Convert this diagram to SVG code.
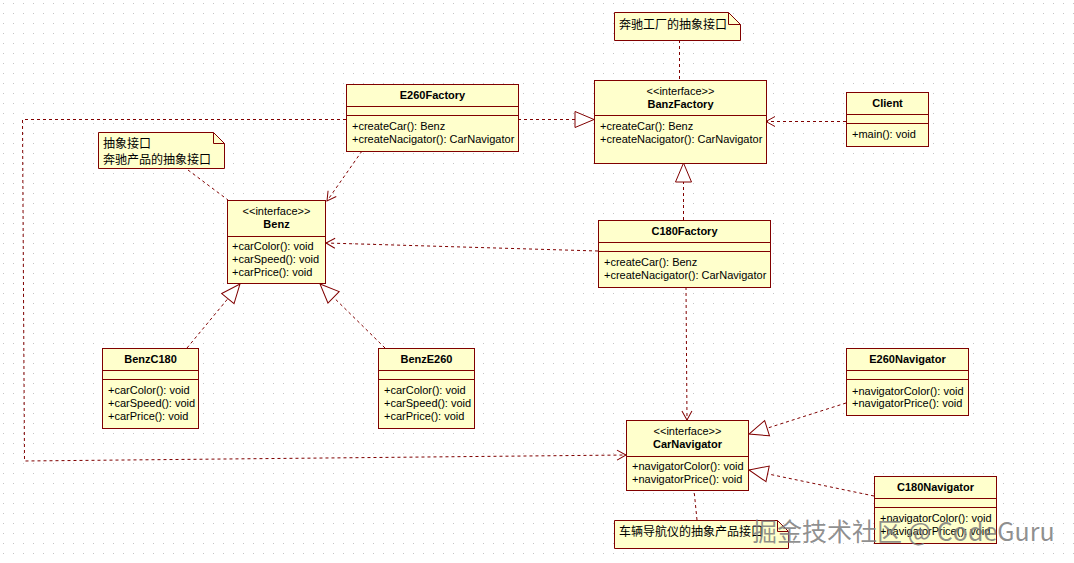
<svg xmlns="http://www.w3.org/2000/svg" width="1074" height="563" viewBox="0 0 1074 563">
<style>
.box{fill:#FFFFCC;stroke:#800000;stroke-width:1}
.sep{stroke:#800000;stroke-width:1}
.t{font-family:"Liberation Sans",Arial,sans-serif;font-size:11px;fill:#000}
.b{font-weight:bold}
.c{text-anchor:middle}
.cjk{font-family:"Noto Sans CJK SC","Noto Sans CJK JP",sans-serif;font-size:12px;fill:#000}
.dash{fill:none;stroke:#800000;stroke-width:1;stroke-dasharray:3,3}
.wm{font-family:"Noto Sans CJK SC","Liberation Sans",sans-serif;font-size:25px;fill:#7c7c7c;fill-opacity:0.85}
</style>
<defs>
<pattern id="grid" width="10" height="10" patternUnits="userSpaceOnUse" x="3" y="3">
<rect x="0" y="0" width="1" height="1" fill="#c4c4c4"/>
</pattern>
<marker id="tri" markerWidth="22" markerHeight="20" refX="20" refY="9" orient="auto" markerUnits="userSpaceOnUse">
<path d="M1,1 L20,9 L1,17 Z" fill="#fff" stroke="#800000" stroke-width="1"/>
</marker>
<marker id="open" markerWidth="12" markerHeight="12" refX="10" refY="6" orient="auto" markerUnits="userSpaceOnUse">
<path d="M1,1 L10,6 L1,11" fill="none" stroke="#800000" stroke-width="1"/>
</marker>
</defs>
<rect width="1074" height="563" fill="#fff"/>
<rect width="1074" height="563" fill="url(#grid)"/>

<g id="connectors">
<path class="dash" d="M518,119.5 L594,119.5" marker-end="url(#tri)"/>
<path class="dash" d="M346,119.5 L22.5,119.5 L24.5,461 L626,455" marker-end="url(#open)"/>
<path class="dash" d="M846,121.5 L766,121.5" marker-end="url(#open)"/>
<path class="dash" d="M683.5,220 L683.5,163" marker-end="url(#tri)"/>
<path class="dash" d="M598,251 L326,243" marker-end="url(#open)"/>
<path class="dash" d="M362,151 L327,201" marker-end="url(#open)"/>
<path class="dash" d="M188,170 L228,200"/>
<path class="dash" d="M187,348 L240,284" marker-end="url(#tri)"/>
<path class="dash" d="M385,348 L320,284" marker-end="url(#tri)"/>
<path class="dash" d="M686,287 L687,420" marker-end="url(#open)"/>
<path class="dash" d="M846,403 L749,434" marker-end="url(#tri)"/>
<path class="dash" d="M874,496 L749,470" marker-end="url(#tri)"/>
<path class="dash" d="M679.5,40 L679.5,80"/>
<path class="dash" d="M697,520 L694,490"/>
</g>

<g id="note-factory">
<path class="box" d="M614.5,12.5 L728.5,12.5 L740.5,24.5 L740.5,40.5 L614.5,40.5 Z"/>
<path fill="none" stroke="#800000" d="M728.5,12.5 L728.5,24.5 L740.5,24.5"/>
<text class="cjk" x="619" y="29">奔驰工厂的抽象接口</text>
</g>

<g id="BanzFactory">
<rect class="box" x="594.5" y="80.5" width="172" height="83"/>
<line class="sep" x1="594.5" y1="115.5" x2="766.5" y2="115.5"/>
<text class="t c" x="680.5" y="95">&lt;&lt;interface&gt;&gt;</text>
<text class="t b c" x="680.5" y="108">BanzFactory</text>
<text class="t" x="600" y="130">+createCar(): Benz</text>
<text class="t" x="600" y="143">+createNacigator(): CarNavigator</text>
</g>

<g id="E260Factory">
<rect class="box" x="346.5" y="84.5" width="172" height="67"/>
<line class="sep" x1="346.5" y1="106.5" x2="518.5" y2="106.5"/>
<line class="sep" x1="346.5" y1="115.5" x2="518.5" y2="115.5"/>
<text class="t b c" x="432.5" y="99">E260Factory</text>
<text class="t" x="352" y="130">+createCar(): Benz</text>
<text class="t" x="352" y="143">+createNacigator(): CarNavigator</text>
</g>

<g id="Client">
<rect class="box" x="846.5" y="92.5" width="82" height="54"/>
<line class="sep" x1="846.5" y1="114.5" x2="928.5" y2="114.5"/>
<line class="sep" x1="846.5" y1="123.5" x2="928.5" y2="123.5"/>
<text class="t b c" x="887.5" y="107">Client</text>
<text class="t" x="852" y="138">+main(): void</text>
</g>

<g id="C180Factory">
<rect class="box" x="598.5" y="220.5" width="172" height="67"/>
<line class="sep" x1="598.5" y1="242.5" x2="770.5" y2="242.5"/>
<line class="sep" x1="598.5" y1="251.5" x2="770.5" y2="251.5"/>
<text class="t b c" x="684.5" y="235">C180Factory</text>
<text class="t" x="604" y="266">+createCar(): Benz</text>
<text class="t" x="604" y="279">+createNacigator(): CarNavigator</text>
</g>

<g id="note-benz">
<path class="box" d="M98.5,132.5 L213.5,132.5 L224.5,143.5 L224.5,168.5 L98.5,168.5 Z"/>
<path fill="none" stroke="#800000" d="M213.5,132.5 L213.5,143.5 L224.5,143.5"/>
<text class="cjk" x="103" y="148">抽象接口</text>
<text class="cjk" x="103" y="164">奔驰产品的抽象接口</text>
</g>

<g id="Benz">
<rect class="box" x="227.5" y="200.5" width="98" height="83"/>
<line class="sep" x1="227.5" y1="236.5" x2="325.5" y2="236.5"/>
<text class="t c" x="276.5" y="215">&lt;&lt;interface&gt;&gt;</text>
<text class="t b c" x="276.5" y="228">Benz</text>
<text class="t" x="232" y="250">+carColor(): void</text>
<text class="t" x="232" y="263">+carSpeed(): void</text>
<text class="t" x="232" y="276">+carPrice(): void</text>
</g>

<g id="BenzC180">
<rect class="box" x="102.5" y="348.5" width="96" height="80"/>
<line class="sep" x1="102.5" y1="370.5" x2="198.5" y2="370.5"/>
<line class="sep" x1="102.5" y1="379.5" x2="198.5" y2="379.5"/>
<text class="t b c" x="150.5" y="363">BenzC180</text>
<text class="t" x="108" y="394">+carColor(): void</text>
<text class="t" x="108" y="407">+carSpeed(): void</text>
<text class="t" x="108" y="420">+carPrice(): void</text>
</g>

<g id="BenzE260">
<rect class="box" x="378.5" y="348.5" width="96" height="80"/>
<line class="sep" x1="378.5" y1="370.5" x2="474.5" y2="370.5"/>
<line class="sep" x1="378.5" y1="379.5" x2="474.5" y2="379.5"/>
<text class="t b c" x="426.5" y="363">BenzE260</text>
<text class="t" x="384" y="394">+carColor(): void</text>
<text class="t" x="384" y="407">+carSpeed(): void</text>
<text class="t" x="384" y="420">+carPrice(): void</text>
</g>

<g id="CarNavigator">
<rect class="box" x="626.5" y="420.5" width="122" height="70"/>
<line class="sep" x1="626.5" y1="456.5" x2="748.5" y2="456.5"/>
<text class="t c" x="687.5" y="435">&lt;&lt;interface&gt;&gt;</text>
<text class="t b c" x="687.5" y="448">CarNavigator</text>
<text class="t" x="632" y="470">+navigatorColor(): void</text>
<text class="t" x="632" y="483">+navigatorPrice(): void</text>
</g>

<g id="E260Navigator">
<rect class="box" x="846.5" y="348.5" width="122" height="67"/>
<line class="sep" x1="846.5" y1="370.5" x2="968.5" y2="370.5"/>
<line class="sep" x1="846.5" y1="379.5" x2="968.5" y2="379.5"/>
<text class="t b c" x="907.5" y="363">E260Navigator</text>
<text class="t" x="852" y="395">+navigatorColor(): void</text>
<text class="t" x="852" y="407">+navigatorPrice(): void</text>
</g>

<g id="C180Navigator">
<rect class="box" x="874.5" y="476.5" width="122" height="67"/>
<line class="sep" x1="874.5" y1="498.5" x2="996.5" y2="498.5"/>
<line class="sep" x1="874.5" y1="507.5" x2="996.5" y2="507.5"/>
<text class="t b c" x="935.5" y="491">C180Navigator</text>
<text class="t" x="880" y="522">+navigatorColor(): void</text>
<text class="t" x="880" y="535">+navigatorPrice(): void</text>
</g>

<g id="note-navigator">
<path class="box" d="M614.5,520.5 L777.5,520.5 L788.5,531.5 L788.5,548.5 L614.5,548.5 Z"/>
<path fill="none" stroke="#800000" d="M777.5,520.5 L777.5,531.5 L788.5,531.5"/>
<text class="cjk" x="619" y="536">车辆导航仪的抽象产品接口</text>
</g>

<text class="wm" x="752" y="541">掘金技术社区 @ CodeGuru</text>
</svg>
